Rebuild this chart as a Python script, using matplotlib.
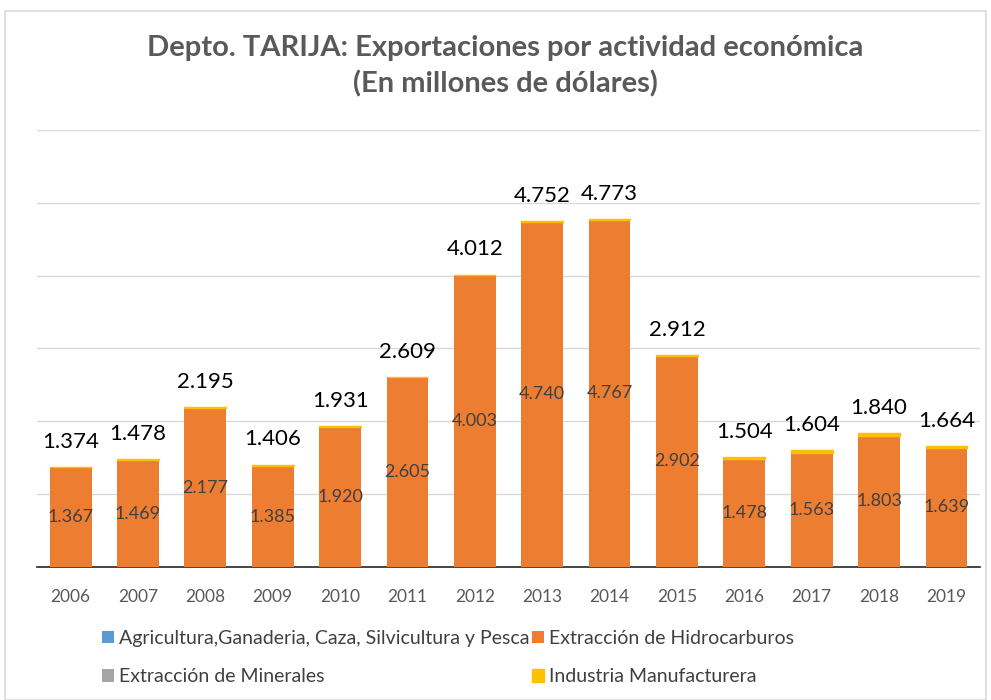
import matplotlib.pyplot as plt
import numpy as np
from matplotlib.patches import Rectangle

plt.rcParams['font.family'] = ['Lato', 'DejaVu Sans']

# Data (millones de dólares)
years = ["2006", "2007", "2008", "2009", "2010", "2011", "2012",
         "2013", "2014", "2015", "2016", "2017", "2018", "2019"]
totals = [1374, 1478, 2195, 1406, 1931, 2609, 4012,
          4752, 4773, 2912, 1504, 1604, 1840, 1664]
agricultura = [0, 0, 0, 0, 0, 0, 0, 0, 0, 0, 4, 0, 0, 0]
hidrocarburos = [1367, 1469, 2177, 1385, 1920, 2605, 4003,
                 4740, 4767, 2902, 1478, 1563, 1803, 1639]
minerales = [0, 0, 0, 0, 0, 0, 0, 0, 0, 0, 7, 0, 0, 0]
manufactura = [t - a - h - m for t, a, h, m in
               zip(totals, agricultura, hidrocarburos, minerales)]

c_agri = "#5b9bd5"
c_hidro = "#ed7d31"
c_min = "#a5a5a5"
c_manu = "#ffc000"

fig = plt.figure(figsize=(9.91, 7.0), dpi=100)
ax = fig.add_axes([0.0373, 0.19, 0.9517, 0.6243])

x = np.arange(len(years))
w = 0.62
agri = np.array(agricultura)
hidro = np.array(hidrocarburos)
mins = np.array(minerales)
manu = np.array(manufactura)

b1 = ax.bar(x, agri, w, color=c_agri, label="Agricultura,Ganaderia, Caza, Silvicultura y Pesca", zorder=3)
b2 = ax.bar(x, hidro, w, bottom=agri, color=c_hidro, label="Extracción de Hidrocarburos", zorder=3)
b3 = ax.bar(x, mins, w, bottom=agri + hidro, color=c_min, label="Extracción de Minerales", zorder=3)
b4 = ax.bar(x, manu, w, bottom=agri + hidro + mins, color=c_manu, edgecolor=c_manu,
            linewidth=1.0, label="Industria Manufacturera", zorder=3)

def fmt(v):
    return f"{v:,}".replace(",", ".")

for xi, a, h, t in zip(x, agri, hidro, totals):
    ax.text(xi, a + h / 2, fmt(h), ha="center", va="center",
            fontsize=13, color="#404040", zorder=4)
    ax.text(xi, t + 210, fmt(t), ha="center", va="bottom",
            fontsize=16, color="black", zorder=4)

ax.set_xlim(-0.5, len(years) - 0.5)
ax.set_ylim(0, 6000)
ax.set_yticks(np.arange(0, 6001, 1000))
ax.yaxis.grid(True, color="#d9d9d9", lw=1, zorder=0)
ax.tick_params(axis="y", left=False, labelleft=False)
ax.set_xticks(x)
ax.set_xticklabels(years, fontsize=12.5, color="#595959")
ax.tick_params(axis="x", length=0, pad=16)
for s in ["top", "right", "left"]:
    ax.spines[s].set_visible(False)
ax.spines["bottom"].set_color("#262626")
ax.spines["bottom"].set_linewidth(1.2)

fig.text(0.51, 0.932, "Depto. TARIJA: Exportaciones por actividad económica",
         ha="center", va="center", fontsize=21, fontweight="bold", color="#595959")
fig.text(0.51, 0.880, "(En millones de dólares)",
         ha="center", va="center", fontsize=21, fontweight="bold", color="#595959")

handles = [b1, b3, b2, b4]
labels = [h.get_label() for h in handles]
leg = fig.legend(handles, labels, ncol=2, loc="upper left",
                 bbox_to_anchor=(0.095, 0.111), frameon=False,
                 fontsize=14, handlelength=0.6, handleheight=0.6,
                 handletextpad=0.3, columnspacing=0.1, labelspacing=1.1,
                 borderaxespad=0)
for t in leg.get_texts():
    t.set_color("#404040")

fig.patches.append(Rectangle((0.005, 0.0), 0.99, 0.985, transform=fig.transFigure,
                             fill=False, edgecolor="#d9d9d9", lw=1.2))

fig.savefig("out.png", dpi=100)
